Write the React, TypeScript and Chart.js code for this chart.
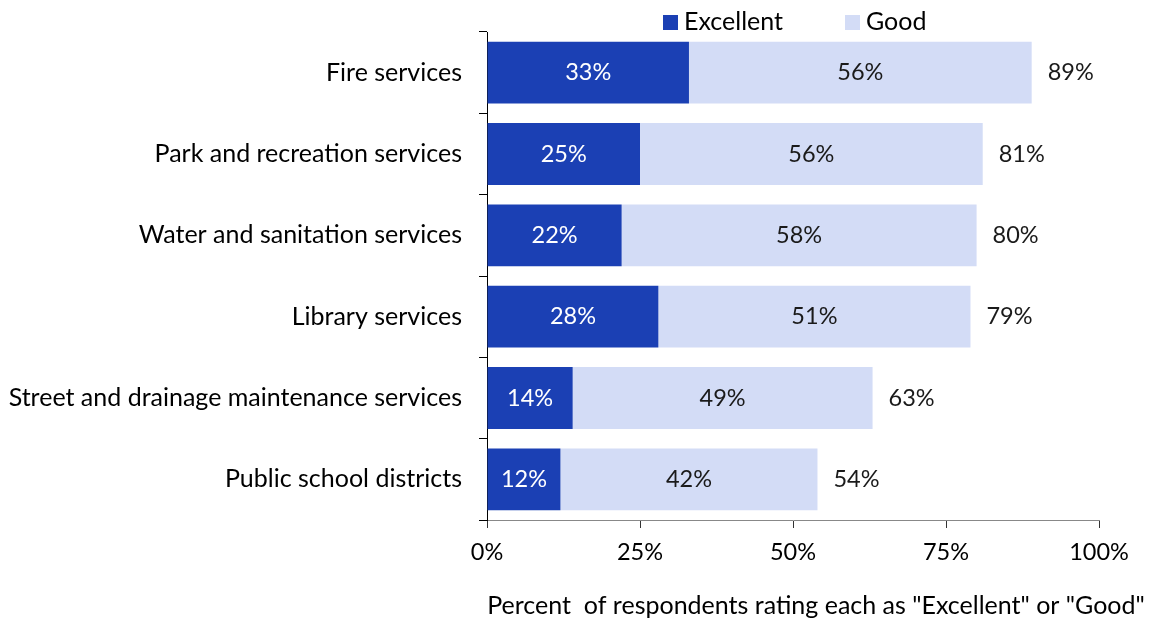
import React, { useEffect, useRef } from "react";
import { Chart, registerables } from "chart.js";
Chart.register(...registerables);

const categories = [
  "Fire services",
  "Park and recreation services",
  "Water and sanitation services",
  "Library services",
  "Street and drainage maintenance services",
  "Public school districts",
];
const excellent = [33, 25, 22, 28, 14, 12];
const good = [56, 56, 58, 51, 49, 42];
const totals = [89, 81, 80, 79, 63, 54];
const seriesNames = ["Excellent", "Good"];
const xTickStep = 25;
const axisTitle = 'Percent  of respondents rating each as "Excellent" or "Good"';

const FONT = "Lato, 'Open Sans', sans-serif";
const FS = 25;
const NFS = 23.5;
const DARK = "#1B40B4";
const LIGHT = "#D3DCF6";

const labelPlugin = {
  id: "labels",
  afterDatasetsDraw(chart: any) {
    const ctx = chart.ctx;
    ctx.save();
    ctx.font = `${NFS}px ${FONT}`;
    ctx.textBaseline = "middle";
    chart.data.datasets.forEach((ds: any, di: number) => {
      const meta = chart.getDatasetMeta(di);
      meta.data.forEach((el: any, i: number) => {
        const cx = (el.x + el.base) / 2;
        ctx.textAlign = "center";
        ctx.fillStyle = di === 0 ? "#ffffff" : "#1a1a1a";
        ctx.fillText(ds.data[i] + "%", cx, el.y);
        if (di === chart.data.datasets.length - 1) {
          ctx.textAlign = "left";
          ctx.fillStyle = "#1a1a1a";
          ctx.fillText(totals[i] + "%", el.x + 16, el.y);
        }
      });
    });
    ctx.restore();
  },
};

const legendPlugin = {
  id: "customLegend",
  afterDraw(chart: any) {
    const ctx = chart.ctx;
    ctx.save();
    ctx.font = `${FS}px ${FONT}`;
    ctx.textBaseline = "middle";
    ctx.textAlign = "left";
    const xs = [663, 845];
    chart.data.datasets.forEach((ds: any, i: number) => {
      ctx.fillStyle = ds.backgroundColor;
      ctx.fillRect(xs[i], 15, 15, 15);
      ctx.fillStyle = "#000";
      ctx.fillText(ds.label, xs[i] + 21, 22);
    });
    ctx.restore();
  },
};

const titlePlugin = {
  id: "axisTitle",
  afterDraw(chart: any) {
    const ctx = chart.ctx;
    ctx.save();
    ctx.font = `${FS}px ${FONT}`;
    ctx.textBaseline = "middle";
    ctx.textAlign = "center";
    ctx.fillStyle = "#000";
    ctx.fillText(axisTitle, 816, 606);
    ctx.restore();
  },
};

export default function App() {
  const ref = useRef<HTMLCanvasElement | null>(null);
  useEffect(() => {
    if (!ref.current) return;
    const chart = new Chart(ref.current, {
      type: "bar",
      data: {
        labels: categories,
        datasets: [
          {
            label: seriesNames[0],
            data: excellent,
            backgroundColor: DARK,
            barPercentage: 0.76,
            categoryPercentage: 1,
          },
          {
            label: seriesNames[1],
            data: good,
            backgroundColor: LIGHT,
            barPercentage: 0.76,
            categoryPercentage: 1,
          },
        ],
      },
      options: {
        indexAxis: "y",
        responsive: false,
        animation: false,
        layout: { padding: { top: 32, right: 57, left: 0, bottom: 0 } },
        plugins: { legend: { display: false }, tooltip: { enabled: false } },
        scales: {
          x: {
            stacked: true,
            min: 0,
            max: 100,
            ticks: {
              stepSize: xTickStep,
              callback: (v: any) => v + "%",
              font: { size: NFS, family: FONT },
              color: "#000",
              padding: 10,
              maxRotation: 0,
            },
            grid: { drawOnChartArea: false, tickLength: 8, color: "#333" },
            border: { color: "#888", width: 1 },
            afterFit: (s: any) => {
              s.height = 100;
            },
          },
          y: {
            stacked: true,
            ticks: { font: { size: FS, family: FONT }, color: "#000", padding: 17 },
            grid: { drawOnChartArea: false, tickLength: 8, color: "#000", offset: true },
            border: { color: "#000", width: 1 },
            afterFit: (s: any) => {
              s.width = 487;
            },
          },
        },
      },
      plugins: [labelPlugin, legendPlugin, titlePlugin],
    } as any);
    return () => chart.destroy();
  }, []);
  return (
    <div style={{ position: "absolute", left: 0, top: 0, width: 1156, height: 620, background: "#fff" }}>
      <canvas ref={ref} width={1156} height={620} style={{ width: 1156, height: 620 }} />
    </div>
  );
}
